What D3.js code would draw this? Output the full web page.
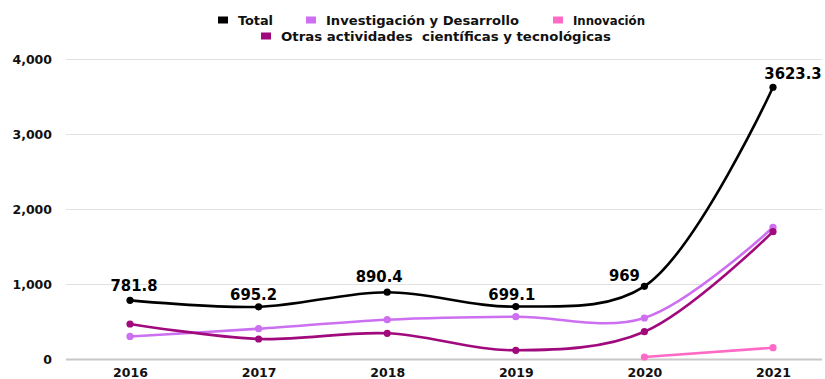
<!DOCTYPE html>
<html>
<head>
<meta charset="utf-8">
<script src="https://cdn.jsdelivr.net/npm/d3@7"></script>
<style>
  body { margin: 0; background: #fff; }
  svg { display: block; }
  .tick text { font-family: "DejaVu Sans", sans-serif; font-weight: bold; font-size: 12.5px; fill: #111; }
  .lbl { font-family: "DejaVu Sans Condensed", sans-serif; font-weight: bold; font-size: 16.5px; fill: #000; }
  .leg { font-family: "DejaVu Sans Condensed", sans-serif; font-weight: bold; font-size: 13px; fill: #111; }
</style>
</head>
<body>
<svg id="chart" width="825" height="379"></svg>
<script>
const years = ["2016", "2017", "2018", "2019", "2020", "2021"];
const total = [781.8, 695.2, 890.4, 699.1, 969, 3623.3];
const investigacion = [301, 404, 524, 564, 547, 1756];
const innovacion = [null, null, null, null, 27, 151];
const otras = [467, 267, 343, 116, 364, 1698];
const yTicks = [0, 1000, 2000, 3000, 4000];

const series = [
  { name: "Innovación", values: innovacion, color: "#ff6ac6" },
  { name: "Investigación y Desarrollo", values: investigacion, color: "#cc6ff0" },
  { name: "Otras actividades  científicas y tecnológicas", values: otras, color: "#a00a7c" },
  { name: "Total", values: total, color: "#000000" }
];

const width = 825, height = 379;
const margin = { left: 66, right: 3, top: 59, bottom: 20 };
const svg = d3.select("#chart");

const x = d3.scalePoint().domain(years).range([130, 773]);
const y = d3.scaleLinear().domain([0, 4000]).range([359, 59]);

// grid + y axis
const yAxis = svg.append("g")
  .attr("transform", `translate(${margin.left},0)`)
  .call(d3.axisLeft(y).tickValues(yTicks).tickFormat(d3.format(",")).tickSize(-(width - margin.left - margin.right)).tickPadding(14));
yAxis.select(".domain").remove();
yAxis.selectAll(".tick line").attr("stroke", "#e0e0e0").attr("stroke-width", 1.2);
yAxis.selectAll(".tick").filter(d => d === 0).select("line").attr("stroke", "#c8c8c8").attr("stroke-width", 2);

// x axis
const xAxis = svg.append("g")
  .attr("transform", `translate(0,359)`)
  .call(d3.axisBottom(x).tickSize(0).tickPadding(9));
xAxis.select(".domain").remove();

const line = d3.line()
  .defined(d => d.v !== null)
  .x(d => x(d.year))
  .y(d => y(d.v))
  .curve(d3.curveCatmullRom.alpha(0.5));

series.forEach(s => {
  const pts = years.map((yr, i) => ({ year: yr, v: s.values[i] }));
  svg.append("path")
    .datum(pts)
    .attr("fill", "none")
    .attr("stroke", s.color)
    .attr("stroke-width", 2.6)
    .attr("d", line);
  svg.append("g").selectAll("circle")
    .data(pts.filter(d => d.v !== null))
    .join("circle")
    .attr("cx", d => x(d.year))
    .attr("cy", d => y(d.v))
    .attr("r", 3.6)
    .attr("fill", s.color);
});

// labels on total
const labelDx = [4, -5, -8, -4, -20, 20];
const labelDy = [-9, -7, -10, -7, -5, -8];
svg.append("g").selectAll("text")
  .data(total)
  .join("text")
  .attr("class", "lbl")
  .attr("text-anchor", "middle")
  .attr("x", (d, i) => x(years[i]) + labelDx[i])
  .attr("y", (d, i) => y(d) + labelDy[i])
  .text(d => d);

// legend
const legendItems = [
  { name: "Total", color: "#000000", x: 218, y: 20, w: 35 },
  { name: "Investigación y Desarrollo", color: "#cc6ff0", x: 306, y: 20, w: 193 },
  { name: "Innovación", color: "#ff6ac6", x: 553, y: 20, w: 72 },
  { name: "Otras actividades  científicas y tecnológicas", color: "#a00a7c", x: 261, y: 36, w: 330 }
];
const lg = svg.append("g").selectAll("g")
  .data(legendItems)
  .join("g")
  .attr("transform", d => `translate(${d.x},${d.y})`);
lg.append("rect").attr("x", 0).attr("y", -3.5).attr("width", 10).attr("height", 7).attr("fill", d => d.color);
lg.append("text").attr("class", "leg").attr("x", 20).attr("y", 4.5)
  .attr("textLength", d => d.w).attr("lengthAdjust", "spacingAndGlyphs")
  .style("white-space", "pre").text(d => d.name);
</script>
</body>
</html>
